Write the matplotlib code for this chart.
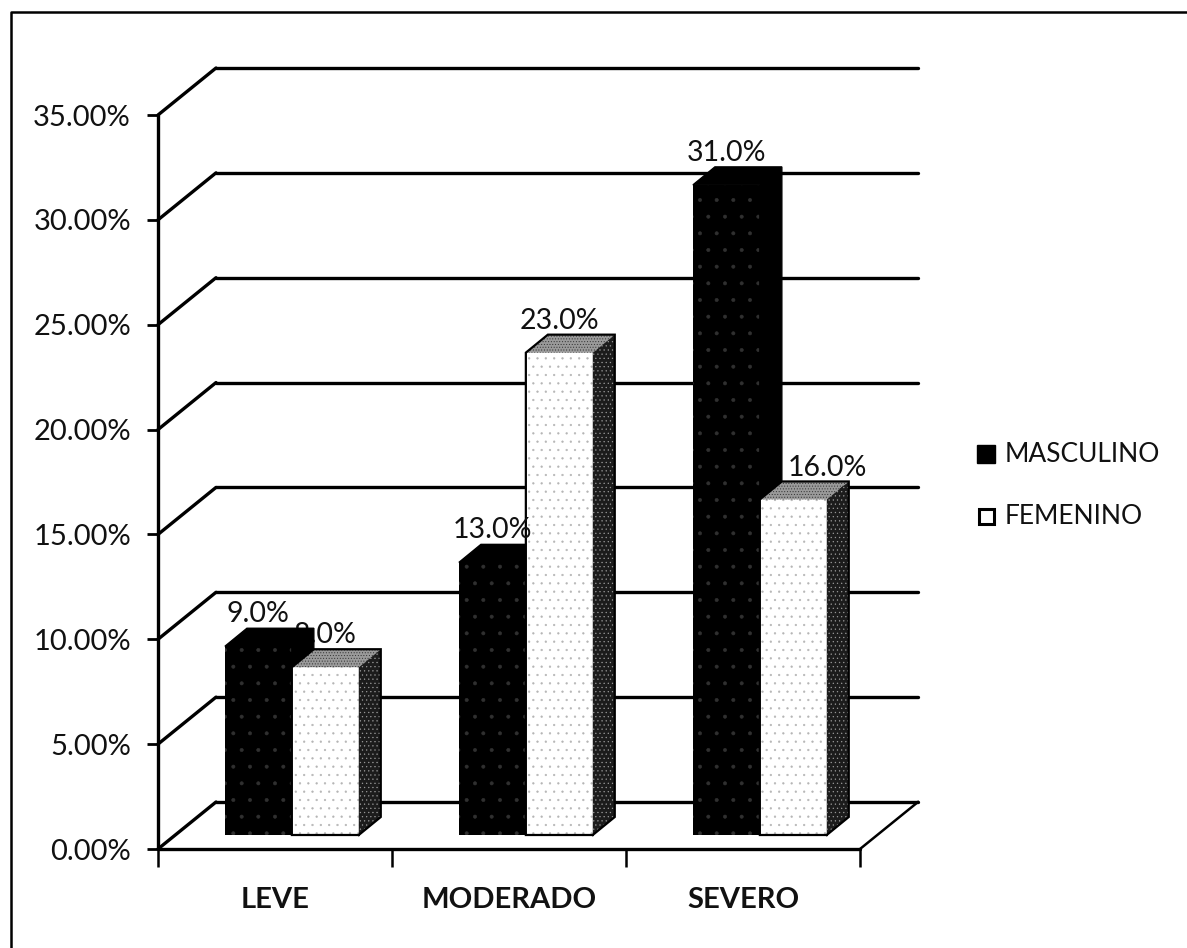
"""
Pseudo 3D clustered bars: MASCULINO / FEMENINO by severity.
"""

import matplotlib
matplotlib.use('Agg')
import matplotlib.pyplot as plt
from matplotlib.patches import Polygon, Rectangle

CATEGORIES = ['LEVE', 'MODERADO', 'SEVERO']
MASCULINO = [9.0, 13.0, 31.0]
FEMENINO = [8.0, 23.0, 16.0]
Y_TICKS = [0, 5, 10, 15, 20, 25, 30, 35]

plt.rcParams.update({
    'font.family': ['Lato', 'DejaVu Sans'],
    'hatch.linewidth': 0.4,
})

W, H = 1187, 948
TXT = '#111111'
fig = plt.figure(figsize=(W / 100, H / 100), dpi=100, facecolor='white')
ax = fig.add_axes([158 / W, (H - 849) / H, 702 / W, 734 / H])
ax.set_xlim(0, 3)
ax.set_ylim(0, 35)
ax.patch.set_visible(False)
for s in ax.spines.values():
    s.set_visible(False)

# depth of the floor and of one bar, in data units
DX, DY = 58 / 234, 47 / 20.97
BX, BY = 22 / 234, 18 / 20.97
BASE = 14 / 20.97
BAR_W = 0.286
START = 0.286
LABEL_UP = 1.52

LINE = dict(color='black', linewidth=2.4, solid_capstyle='round', clip_on=False)

# back wall grid, diagonals and floor
for t in Y_TICKS:
    ax.plot([DX, 3 + DX], [t + DY, t + DY], zorder=1, **LINE)
    ax.plot([0, DX], [t, t + DY], zorder=1, **LINE)
ax.plot([3, 3 + DX], [0, DY], color='black', linewidth=1.8, clip_on=False, zorder=1)

# axes
ax.plot([0, 0], [0, 35], zorder=4, **LINE)
ax.plot([0, 3], [0, 0], zorder=4, **LINE)
ax.set_xticks([0, 1, 2, 3])
ax.set_xticklabels([])
ax.set_yticks(Y_TICKS)
ax.set_yticklabels([f'{t:.2f}%' for t in Y_TICKS], fontsize=21, color=TXT)
ax.tick_params(axis='y', length=8, width=2, pad=11.5, colors='black')
ax.tick_params(axis='y', labelcolor=TXT)
ax.tick_params(axis='x', length=13, width=1.8, colors='black')
for i, c in enumerate(CATEGORIES):
    ax.text(i + 0.5, -2.45, c, ha='center', va='center', fontsize=21, fontweight='bold', color=TXT)


def masc_bar(x, v):
    y1 = BASE + v
    ax.bar(x, v, BAR_W, bottom=BASE, align='edge', color='black', edgecolor='#303030',
           linewidth=0, hatch='.', zorder=5)
    ax.add_patch(Polygon([(x, y1), (x + BX, y1 + BY), (x + BAR_W + BX, y1 + BY),
                          (x + BAR_W + BX, BASE + BY), (x + BAR_W, BASE), (x + BAR_W, y1)],
                         facecolor='black', edgecolor='black', linewidth=1, zorder=5, clip_on=False))


def fem_bar(x, v):
    y1 = BASE + v
    ax.bar(x, v, BAR_W, bottom=BASE, align='edge', color='white', edgecolor='#b5b5b5',
           linewidth=0, hatch='..', zorder=6)
    # top face
    ax.add_patch(Polygon([(x, y1), (x + BX, y1 + BY), (x + BAR_W + BX, y1 + BY), (x + BAR_W, y1)],
                         facecolor='#9a9a9a', edgecolor='#333333', hatch='......', linewidth=0,
                         zorder=6, clip_on=False))
    # side face
    ax.add_patch(Polygon([(x + BAR_W, BASE), (x + BAR_W + BX, BASE + BY), (x + BAR_W + BX, y1 + BY), (x + BAR_W, y1)],
                         facecolor='#1c1c1c', edgecolor='#999999', hatch='....', linewidth=0,
                         zorder=6, clip_on=False))
    # dark edges
    ax.plot([x + BAR_W, x, x, x + BX, x + BAR_W + BX, x + BAR_W + BX, x + BAR_W],
            [BASE, BASE, y1, y1 + BY, y1 + BY, BASE + BY, BASE],
            color='black', linewidth=1.6, zorder=7, clip_on=False, solid_joinstyle='miter')


FEM_LABEL_SHIFT = [0, 0, 0.146]  # 16.0% sits off to the right of its bar
for i in range(3):
    masc_bar(i + START, MASCULINO[i])
    fem_bar(i + START + BAR_W, FEMENINO[i])
    ax.text(i + START + BAR_W / 2, BASE + MASCULINO[i] + LABEL_UP, f'{MASCULINO[i]:.1f}%',
            ha='center', va='center', fontsize=20.5, color=TXT, zorder=8)
    ax.text(i + START + BAR_W * 1.5 + FEM_LABEL_SHIFT[i], BASE + FEMENINO[i] + LABEL_UP, f'{FEMENINO[i]:.1f}%',
            ha='center', va='center', fontsize=20.5, color=TXT, zorder=3)

# legend, frame
fig.add_artist(Rectangle((977 / W, 1 - 463 / H), 18 / W, 18 / H, transform=fig.transFigure,
                         facecolor='black', edgecolor='black'))
fig.add_artist(Rectangle((978.5 / W, 1 - 523.5 / H), 15 / W, 15 / H, transform=fig.transFigure,
                         facecolor='white', edgecolor='black', linewidth=2.2))
fig.text(1005 / W, 1 - 455 / H, 'MASCULINO', va='center', ha='left', fontsize=19, color=TXT)
fig.text(1005 / W, 1 - 517 / H, 'FEMENINO', va='center', ha='left', fontsize=19, color=TXT)
fig.add_artist(plt.Line2D([11 / W, 11 / W, 1], [0, 1 - 12 / H, 1 - 12 / H], color='black', linewidth=1.8))

fig.savefig('out.png', dpi=100)
plt.close()
